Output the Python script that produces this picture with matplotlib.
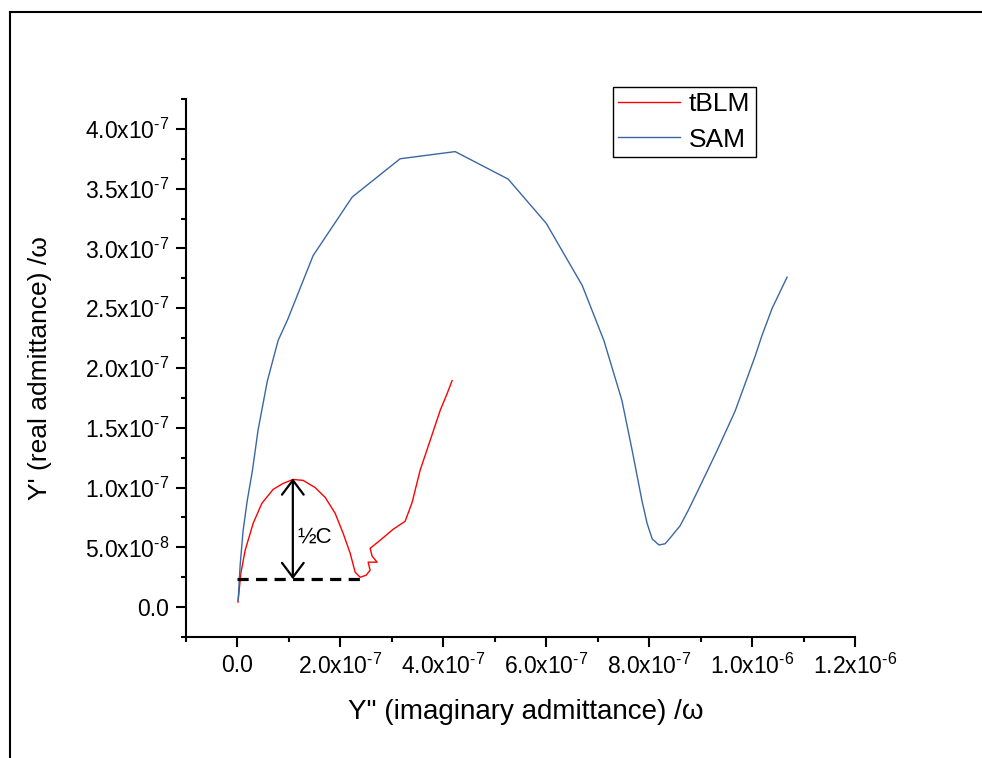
import numpy as np
import matplotlib
matplotlib.use('Agg')
import matplotlib.pyplot as plt
from matplotlib.ticker import MultipleLocator, FuncFormatter
from matplotlib.lines import Line2D

plt.rcParams['font.family'] = ['Liberation Sans', 'DejaVu Sans']
plt.rcParams['mathtext.fontset'] = 'custom'
plt.rcParams['mathtext.rm'] = 'Liberation Sans'
plt.rcParams['mathtext.it'] = 'Liberation Sans:italic'
plt.rcParams['mathtext.bf'] = 'Liberation Sans:bold'

# tBLM (red) - Y'' vs Y'
tblm_x = [1e-9, 6.6e-9, 1.5e-8, 3.05e-8, 4.74e-8, 6.94e-8, 8.88e-8, 1.082e-7, 1.276e-7,
          1.51e-7, 1.704e-7, 1.898e-7, 2.053e-7, 2.19e-7, 2.287e-7, 2.384e-7, 2.5e-7,
          2.578e-7, 2.539e-7, 2.714e-7, 2.617e-7, 2.578e-7, 2.772e-7, 3.025e-7, 3.258e-7,
          3.394e-7, 3.549e-7, 3.744e-7, 3.938e-7, 4.074e-7, 4.171e-7]
tblm_y = [4.2e-9, 2.84e-8, 4.76e-8, 7.01e-8, 8.68e-8, 9.85e-8, 1.035e-7, 1.068e-7, 1.06e-7,
          1.0e-7, 9.18e-8, 7.85e-8, 6.18e-8, 4.51e-8, 2.92e-8, 2.5e-8, 2.67e-8,
          3.09e-8, 3.76e-8, 3.76e-8, 4.26e-8, 4.92e-8, 5.59e-8, 6.51e-8, 7.18e-8,
          8.76e-8, 1.144e-7, 1.394e-7, 1.644e-7, 1.786e-7, 1.895e-7]

# SAM (blue)
sam_x = [1.4e-9, 5.2e-9, 1.1e-8, 1.9e-8, 2.9e-8, 4.0e-8, 5.8e-8, 7.9e-8, 9.8e-8, 1.47e-7,
         2.23e-7, 3.16e-7, 4.23e-7, 5.26e-7, 6.0e-7, 6.7e-7, 7.12e-7, 7.47e-7, 7.67e-7,
         7.86e-7, 7.96e-7, 8.06e-7, 8.19e-7, 8.31e-7, 8.41e-7, 8.6e-7, 8.76e-7, 8.93e-7,
         9.12e-7, 9.32e-7, 9.67e-7, 1.006e-6, 1.019e-6, 1.039e-6, 1.068e-6]
sam_y = [5.8e-9, 3.5e-8, 6.4e-8, 8.9e-8, 1.14e-7, 1.48e-7, 1.89e-7, 2.23e-7, 2.41e-7, 2.94e-7,
         3.43e-7, 3.75e-7, 3.81e-7, 3.58e-7, 3.21e-7, 2.69e-7, 2.23e-7, 1.73e-7, 1.31e-7,
         8.9e-8, 7.0e-8, 5.7e-8, 5.2e-8, 5.3e-8, 5.8e-8, 6.8e-8, 8.1e-8, 9.6e-8,
         1.13e-7, 1.31e-7, 1.64e-7, 2.1e-7, 2.27e-7, 2.5e-7, 2.76e-7]

# annotation: baseline and half-circle height
base_y = 2.34e-8
base_x0, base_x1 = 0.0, 2.43e-7
arrow_x = 1.076e-7
arrow_top = 1.077e-7

fig = plt.figure(figsize=(9.82, 7.58), dpi=100)
ax = fig.add_axes([0.1894, 0.1596, 0.6813, 0.7098])

ax.plot(tblm_x, tblm_y, color='#ff0000', lw=1.0, label='tBLM')
ax.plot(sam_x, sam_y, color='#3a67a3', lw=1.0, label='SAM')

ax.plot([base_x0, base_x1], [base_y, base_y], color='black', lw=2.3,
        linestyle=(0, (3.5, 2.3)))
ax.annotate('', xy=(arrow_x, arrow_top), xytext=(arrow_x, base_y),
            arrowprops=dict(arrowstyle='<->,head_length=0.4,head_width=0.3',
                            lw=1.6, color='black', mutation_scale=26,
                            shrinkA=0, shrinkB=0))
ax.text(1.16e-7, 5.84e-8, '½C', fontsize=16, va='center', ha='left')

ax.set_xlim(-1e-7, 1.2e-6)
ax.set_ylim(-2.5e-8, 4.25e-7)

ax.spines['top'].set_visible(False)
ax.spines['right'].set_visible(False)
ax.spines['left'].set_linewidth(1.5)
ax.spines['bottom'].set_linewidth(1.5)

ax.xaxis.set_major_locator(MultipleLocator(2e-7))
ax.xaxis.set_minor_locator(MultipleLocator(1e-7))
ax.yaxis.set_major_locator(MultipleLocator(5e-8))
ax.yaxis.set_minor_locator(MultipleLocator(2.5e-8))


def sci_label(v, pos):
    if abs(v) < 1e-12:
        return '0.0'
    e = int(np.floor(np.log10(abs(v)) + 1e-9))
    m = v / 10 ** e
    return f'{m:.1f}x10$^{{\\text{{{e}}}}}$'


ax.xaxis.set_major_formatter(FuncFormatter(sci_label))
ax.yaxis.set_major_formatter(FuncFormatter(sci_label))
ax.tick_params(which='major', direction='out', length=7, width=1.5, labelsize=16.5, pad=5)
ax.tick_params(which='minor', direction='out', length=3.5, width=1.5)
ax.xaxis.set_ticks_position('bottom')
ax.yaxis.set_ticks_position('left')

ax.set_xlabel('Y" (imaginary admittance) /ω', fontsize=20)
ax.set_ylabel("Y' (real admittance) /ω", fontsize=19)
ax.xaxis.set_label_coords(0.508, -0.116)
ax.yaxis.set_label_coords(-0.200, 0.5)

leg = ax.legend(loc='upper left', bbox_to_anchor=(0.638, 1.022), fontsize=19,
                frameon=True, fancybox=False, framealpha=1, edgecolor='black',
                borderpad=0.2, handlelength=2.35, handletextpad=0.34,
                labelspacing=0.42, borderaxespad=0)
leg.get_frame().set_linewidth(1.0)

# outer frame (top and left visible)
fig.add_artist(Line2D([10 / 982, 10 / 982], [0, 1 - 12 / 758], transform=fig.transFigure,
                      color='black', lw=1.5))
fig.add_artist(Line2D([10 / 982, 1], [1 - 12 / 758, 1 - 12 / 758], transform=fig.transFigure,
                      color='black', lw=1.5))

fig.savefig('out.png', dpi=100)
